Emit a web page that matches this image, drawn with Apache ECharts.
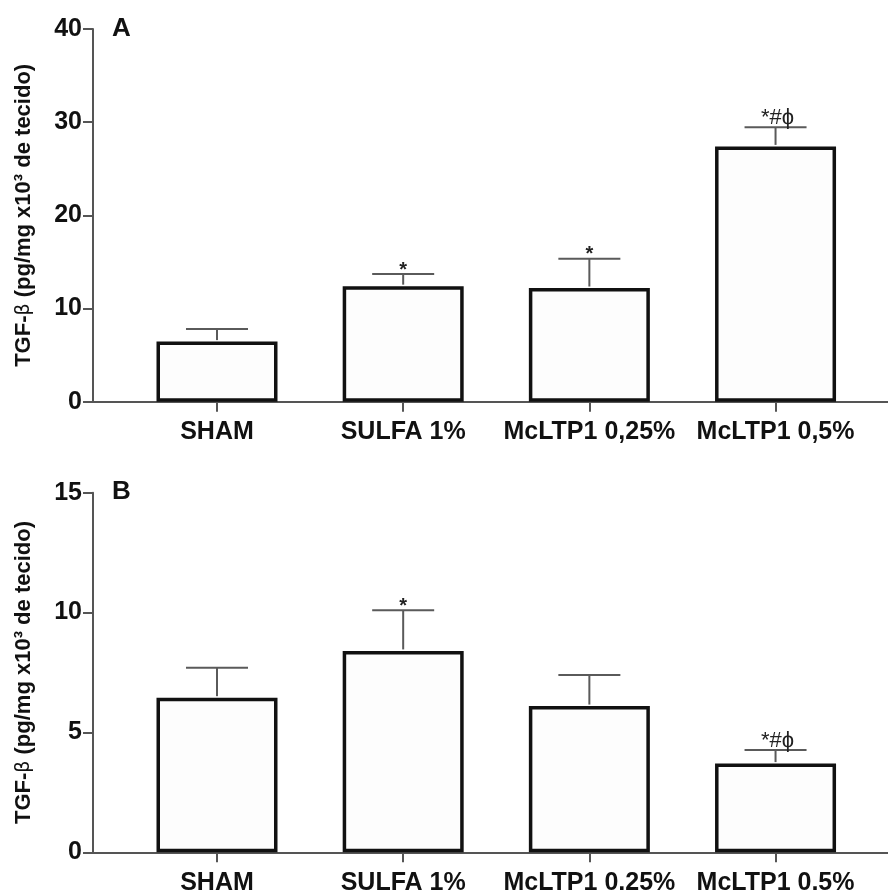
<!DOCTYPE html>
<html>
<head>
<meta charset="utf-8">
<script src="https://cdn.jsdelivr.net/npm/echarts@6/dist/echarts.min.js"></script>
<style>
html,body{margin:0;padding:0;background:#fff;}
#chart{width:888px;height:890px;}
</style>
</head>
<body>
<div id="chart"></div>
<script>
// ---- data ----
const categories = ['SHAM', 'SULFA 1%', 'McLTP1 0,25%', 'McLTP1 0,5%'];
// Panel A
const meanA = [6.45, 12.4, 12.2, 27.4];
const upperA = [7.8, 13.7, 15.35, 29.45];
const signifA = ['', '*', '*', '*#ϕ'];
const yTicksA = [0, 10, 20, 30, 40];
// Panel B
const meanB = [6.45, 8.4, 6.1, 3.7];
const upperB = [7.7, 10.1, 7.4, 4.27];
const signifB = ['', '*', '', '*#ϕ'];
const yTicksB = [0, 5, 10, 15];
const panelLabels = ['A', 'B'];
const yTitle = '{b|TGF-}{n|β}{b| (pg/mg x10³ de tecido)}';

// ---- styling ----
const FONT = 'Liberation Sans';
const AXIS_COLOR = '#555';
const ERR_COLOR = '#5a5a5a';
const idx = categories.map((c, i) => i);

function xAxisFor(gi) {
  return {
    gridIndex: gi, type: 'value', min: -0.666, max: 3.604,
    splitLine: {show: false},
    axisLine: {show: true, onZero: false, lineStyle: {color: AXIS_COLOR, width: 2}},
    axisTick: {show: true, customValues: idx, length: 10, lineStyle: {color: AXIS_COLOR, width: 2}},
    axisLabel: {
      show: true, customValues: idx, margin: 18,
      formatter: v => categories[Math.round(v)] || '',
      fontFamily: FONT, fontWeight: 'bold', fontSize: 25, color: '#111'
    }
  };
}
function yAxisFor(gi, ticks) {
  return {
    gridIndex: gi, type: 'value', min: ticks[0], max: ticks[ticks.length - 1],
    interval: ticks[1] - ticks[0],
    splitLine: {show: false},
    axisLine: {show: true, onZero: false, lineStyle: {color: AXIS_COLOR, width: 2}},
    axisTick: {show: true, length: 10, lineStyle: {color: AXIS_COLOR, width: 2}},
    axisLabel: {margin: 11, fontFamily: FONT, fontWeight: 'bold', fontSize: 25, color: '#111'},
    name: yTitle, nameLocation: 'middle', nameRotate: 90, nameGap: 58,
    nameTextStyle: {
      rich: {
        b: {fontFamily: FONT, fontWeight: 'bold', fontSize: 22, color: '#111'},
        n: {fontFamily: 'DejaVu Sans', fontWeight: 'normal', fontSize: 19, color: '#111'}
      }
    }
  };
}
function barSeries(gi, mean) {
  return {
    type: 'bar', xAxisIndex: gi, yAxisIndex: gi,
    data: mean.map((v, i) => [i, v]),
    barWidth: 121,
    itemStyle: {color: '#fdfdfd', borderColor: '#111', borderWidth: 3.5},
    z: 2, silent: true
  };
}
function errSeries(gi, mean, upper, signif) {
  return {
    type: 'custom', xAxisIndex: gi, yAxisIndex: gi,
    data: mean.map((v, i) => [i, v, upper[i]]),
    z: 3, silent: true,
    renderItem: function (params, api) {
      const p0 = api.coord([api.value(0), api.value(1)]);
      const p1 = api.coord([api.value(0), api.value(2)]);
      const half = 31;
      const txt = signif[params.dataIndex];
      const children = [
        {type: 'line', shape: {x1: p0[0], y1: p0[1] - 1.5, x2: p1[0], y2: p1[1]},
         style: {stroke: ERR_COLOR, lineWidth: 2}},
        {type: 'line', shape: {x1: p1[0] - half, y1: p1[1], x2: p1[0] + half, y2: p1[1]},
         style: {stroke: ERR_COLOR, lineWidth: 2}}
      ];
      if (txt) {
        children.push({
          type: 'text',
          style: {
            text: txt, x: p1[0] + (txt.length > 1 ? 2 : 0), y: p1[1] + (txt.length > 1 ? -9 : -4),
            textAlign: 'center', textVerticalAlign: 'middle',
            font: (txt.length > 1 ? 'normal 22px ' : 'bold 20px ') + '"Liberation Sans"',
            fill: '#222'
          }
        });
      }
      return {type: 'group', children: children};
    }
  };
}

const option = {
  backgroundColor: '#fff',
  animation: false,
  title: [
    {text: panelLabels[0], left: 112, top: 16, padding: 0,
     textStyle: {fontFamily: FONT, fontWeight: 'bold', fontSize: 26, color: '#111'}},
    {text: panelLabels[1], left: 112, top: 479, padding: 0,
     textStyle: {fontFamily: FONT, fontWeight: 'bold', fontSize: 26, color: '#111'}}
  ],
  grid: [
    {left: 93, right: 0, top: 29, height: 372.7, outerBoundsMode: 'none', containLabel: false},
    {left: 93, right: 0, top: 492.7, height: 359.6, outerBoundsMode: 'none', containLabel: false}
  ],
  xAxis: [xAxisFor(0), xAxisFor(1)],
  yAxis: [yAxisFor(0, yTicksA), yAxisFor(1, yTicksB)],
  series: [
    barSeries(0, meanA), errSeries(0, meanA, upperA, signifA),
    barSeries(1, meanB), errSeries(1, meanB, upperB, signifB)
  ]
};
const chart = echarts.init(document.getElementById('chart'), null, {renderer: 'canvas'});
chart.setOption(option);
</script>
</body>
</html>
